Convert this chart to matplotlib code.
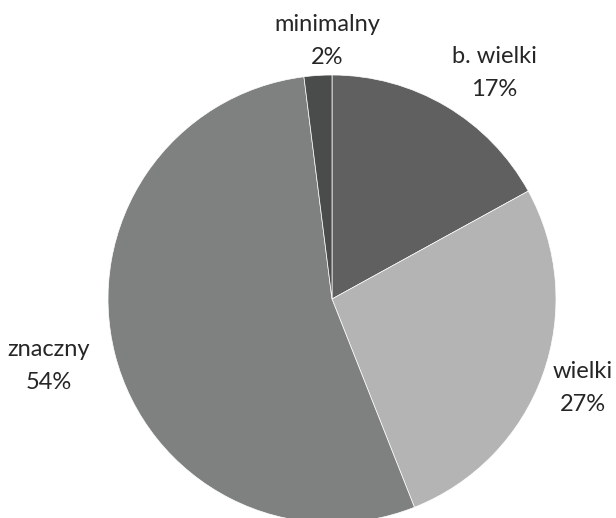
import matplotlib.pyplot as plt

# slice data, clockwise from 12 o'clock
categories = ['b. wielki', 'wielki', 'znaczny', 'minimalny']
shares = [17, 27, 54, 2]
colors = ['#606060', '#b4b4b4', '#7f8180', '#4a4c4b']

# label anchors in pixel coords from the top (x, y of the two-line block centre)
label_pos = [(494, 73), (583, 388), (49, 366), (327, 41)]

W, H = 616, 518
fig = plt.figure(figsize=(W / 100, H / 100), dpi=100)
ax = fig.add_axes([0, 0, 1, 1])

ax.pie(shares, colors=colors, startangle=90, counterclock=False,
       center=(332, H - 299), radius=224, frame=True,
       wedgeprops=dict(edgecolor='white', linewidth=0.5))
ax.set_xlim(0, W)
ax.set_ylim(0, H)
ax.set_aspect('equal')
ax.axis('off')

for cat, val, (x, y) in zip(categories, shares, label_pos):
    ax.text(x, H - y, f'{cat}\n{val}%', ha='center', va='center',
            fontsize=17, family='Lato', color='#262626',
            linespacing=1.65)

fig.savefig('out.png', dpi=100)
